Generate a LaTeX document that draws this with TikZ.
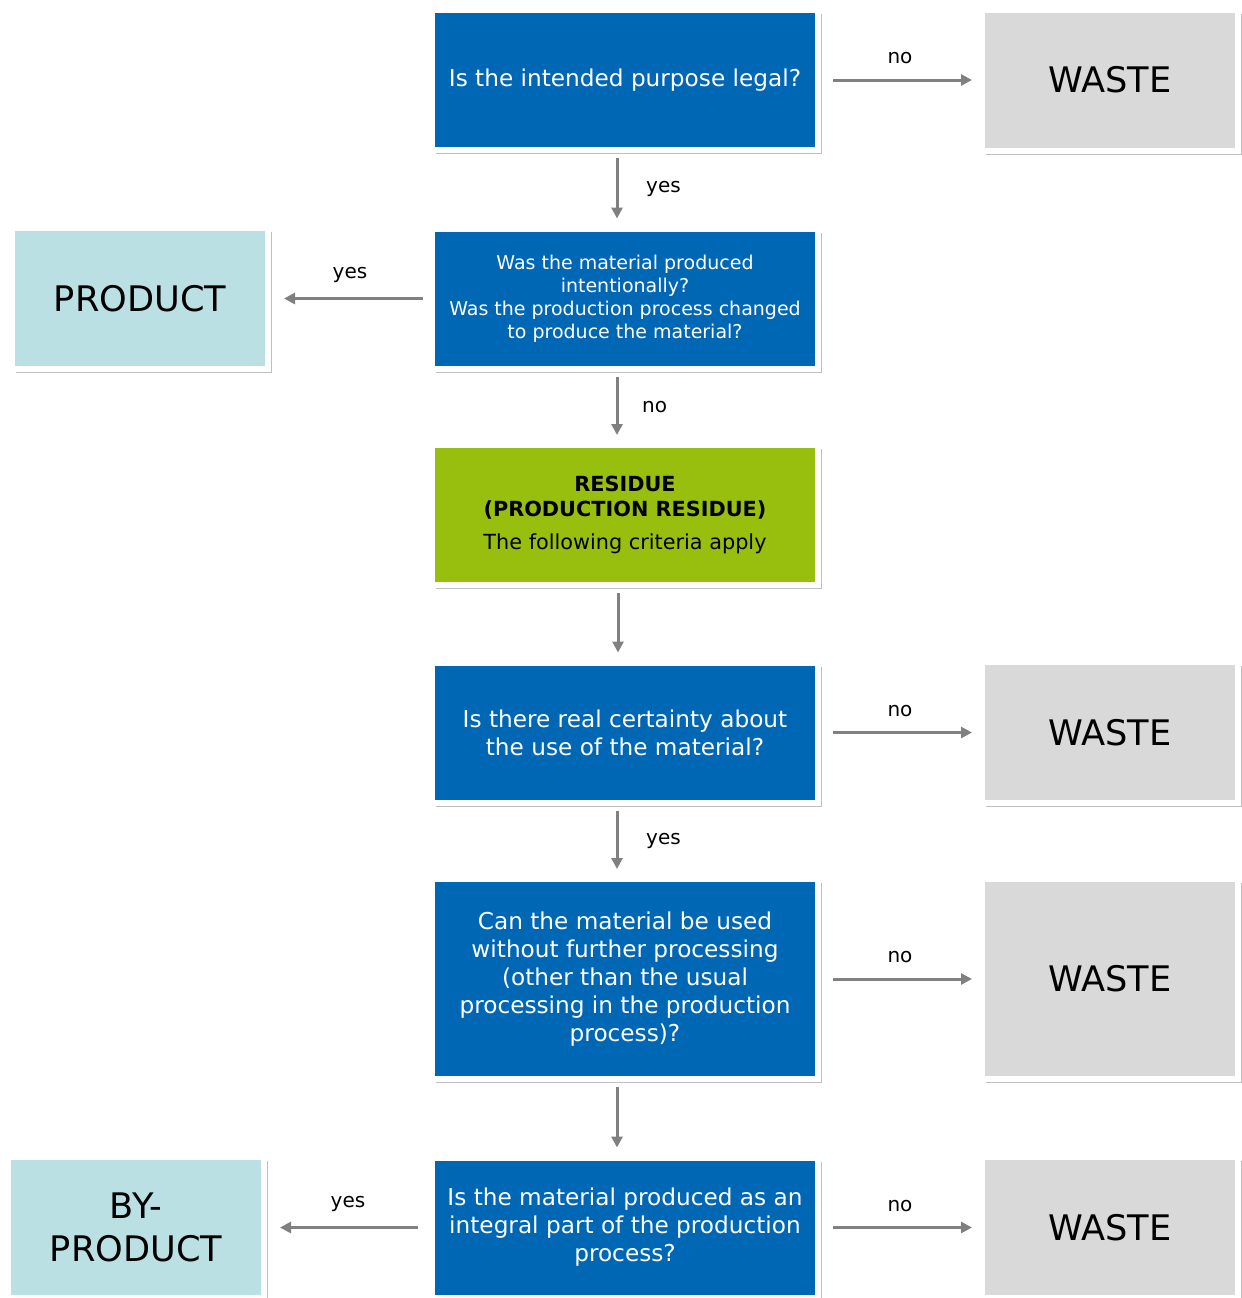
\documentclass[tikz,border=0pt]{standalone}
\usepackage{fontspec}
\setmainfont{DejaVu Sans}
\usetikzlibrary{arrows.meta,shadows}
\definecolor{Blue}{RGB}{0,103,180}
\definecolor{Lime}{RGB}{153,191,14}
\definecolor{Aqua}{RGB}{186,224,227}
\definecolor{Grey}{RGB}{217,217,217}
\definecolor{Arrow}{RGB}{128,128,128}

\begin{document}
\begin{tikzpicture}[
  x=0.5pt, y=-0.5pt,
  box/.style = {rectangle,fill=#1,draw=white,line width=3pt,align=center,inner sep=0pt,
    drop shadow={shadow xshift=2.2pt,shadow yshift=-2.2pt,fill=black!25,opacity=1}},
  question/.style = {box=Blue,text=white,minimum width=193pt,minimum height=70pt,
    font=\fontsize{11.6}{14}\selectfont},
  residue/.style = {box=Lime,text=black,minimum width=193pt,minimum height=70pt,
    font=\fontsize{10.4}{12.5}\selectfont},
  waste/.style = {box=Grey,minimum width=128pt,minimum height=70.5pt,
    font=\fontsize{17.6}{21.5}\selectfont},
  product/.style = {box=Aqua,minimum width=128pt,minimum height=70.5pt,
    font=\fontsize{17.6}{21.5}\selectfont},
  flow/.style = {draw=Arrow,line width=1.5pt,-{Triangle[length=5.5pt,width=5.5pt]},
    shorten <=2.5pt,shorten >=3.5pt},
  answer/.style = {font=\fontsize{10}{12}\selectfont,inner sep=3.33pt}
  ]
  \path[use as bounding box,fill=white] (0,0) rectangle (1242,1298);
  %
  \node[question] (legal)     at (625,80)     {Is the intended purpose legal?};
  \node[question,font=\fontsize{9.5}{11.5}\selectfont]
                  (intent)    at (625,298.5)  {Was the material produced\\intentionally?\\Was the production process changed\\to produce the material?};
  \node[residue]  (residue)   at (625,515)    {\textbf{RESIDUE}\\\textbf{(PRODUCTION RESIDUE)}\\[4pt]The following criteria apply};
  \node[question] (certain)   at (625,732.5)  {Is there real certainty about\\the use of the material?};
  \node[question,minimum height=100pt]
                  (further)   at (625,979)    {Can the material be used\\without further processing\\(other than the usual\\processing in the production\\process)?};
  \node[question] (integral)  at (625,1227.5) {Is the material produced as an\\integral part of the production\\process?};
  %
  \node[waste]    (waste1)    at (1110,80)    {WASTE};
  \node[waste]    (waste2)    at (1110,732.5) {WASTE};
  \node[waste,minimum height=100pt]
                  (waste3)    at (1110,979)   {WASTE};
  \node[waste]    (waste4)    at (1110,1227.5) {WASTE};
  \node[product]  (product)   at (140,298.5)  {PRODUCT};
  \node[product]  (byproduct) at (136,1227.5) {BY-\\PRODUCT};
  %
  \draw[flow] ([xshift=-4pt]legal.south) -- node[answer,right=10.5pt] {yes} ([xshift=-4pt]intent.north);
  \draw[flow] ([xshift=-4pt]intent.south) -- node[answer,right=8.5pt] {no} ([xshift=-4pt]residue.north);
  \draw[flow] ([xshift=-3.5pt]residue.south) -- ([xshift=-3.5pt]certain.north);
  \draw[flow] ([xshift=-4pt]certain.south) -- node[answer,right=10.5pt] {yes} ([xshift=-4pt]further.north);
  \draw[flow] ([xshift=-4pt]further.south) -- ([xshift=-4pt]integral.north);
  %
  \draw[flow,shorten <=6pt] (legal) -- node[answer,above=4pt] {no} (waste1);
  \draw[flow,shorten <=6pt] (certain) -- node[answer,above=4pt] {no} (waste2);
  \draw[flow,shorten <=6pt] (further) -- node[answer,above=4pt] {no} (waste3);
  \draw[flow,shorten <=6pt] (integral) -- node[answer,above=4pt] {no} (waste4);
  \draw[flow,shorten <=3pt,shorten >=6.5pt] (intent) -- node[answer,above=4pt] {yes} (product);
  \draw[flow,shorten <=5.5pt,shorten >=6.5pt] (integral) -- node[answer,above=4pt] {yes} (byproduct);
\end{tikzpicture}
\end{document}
